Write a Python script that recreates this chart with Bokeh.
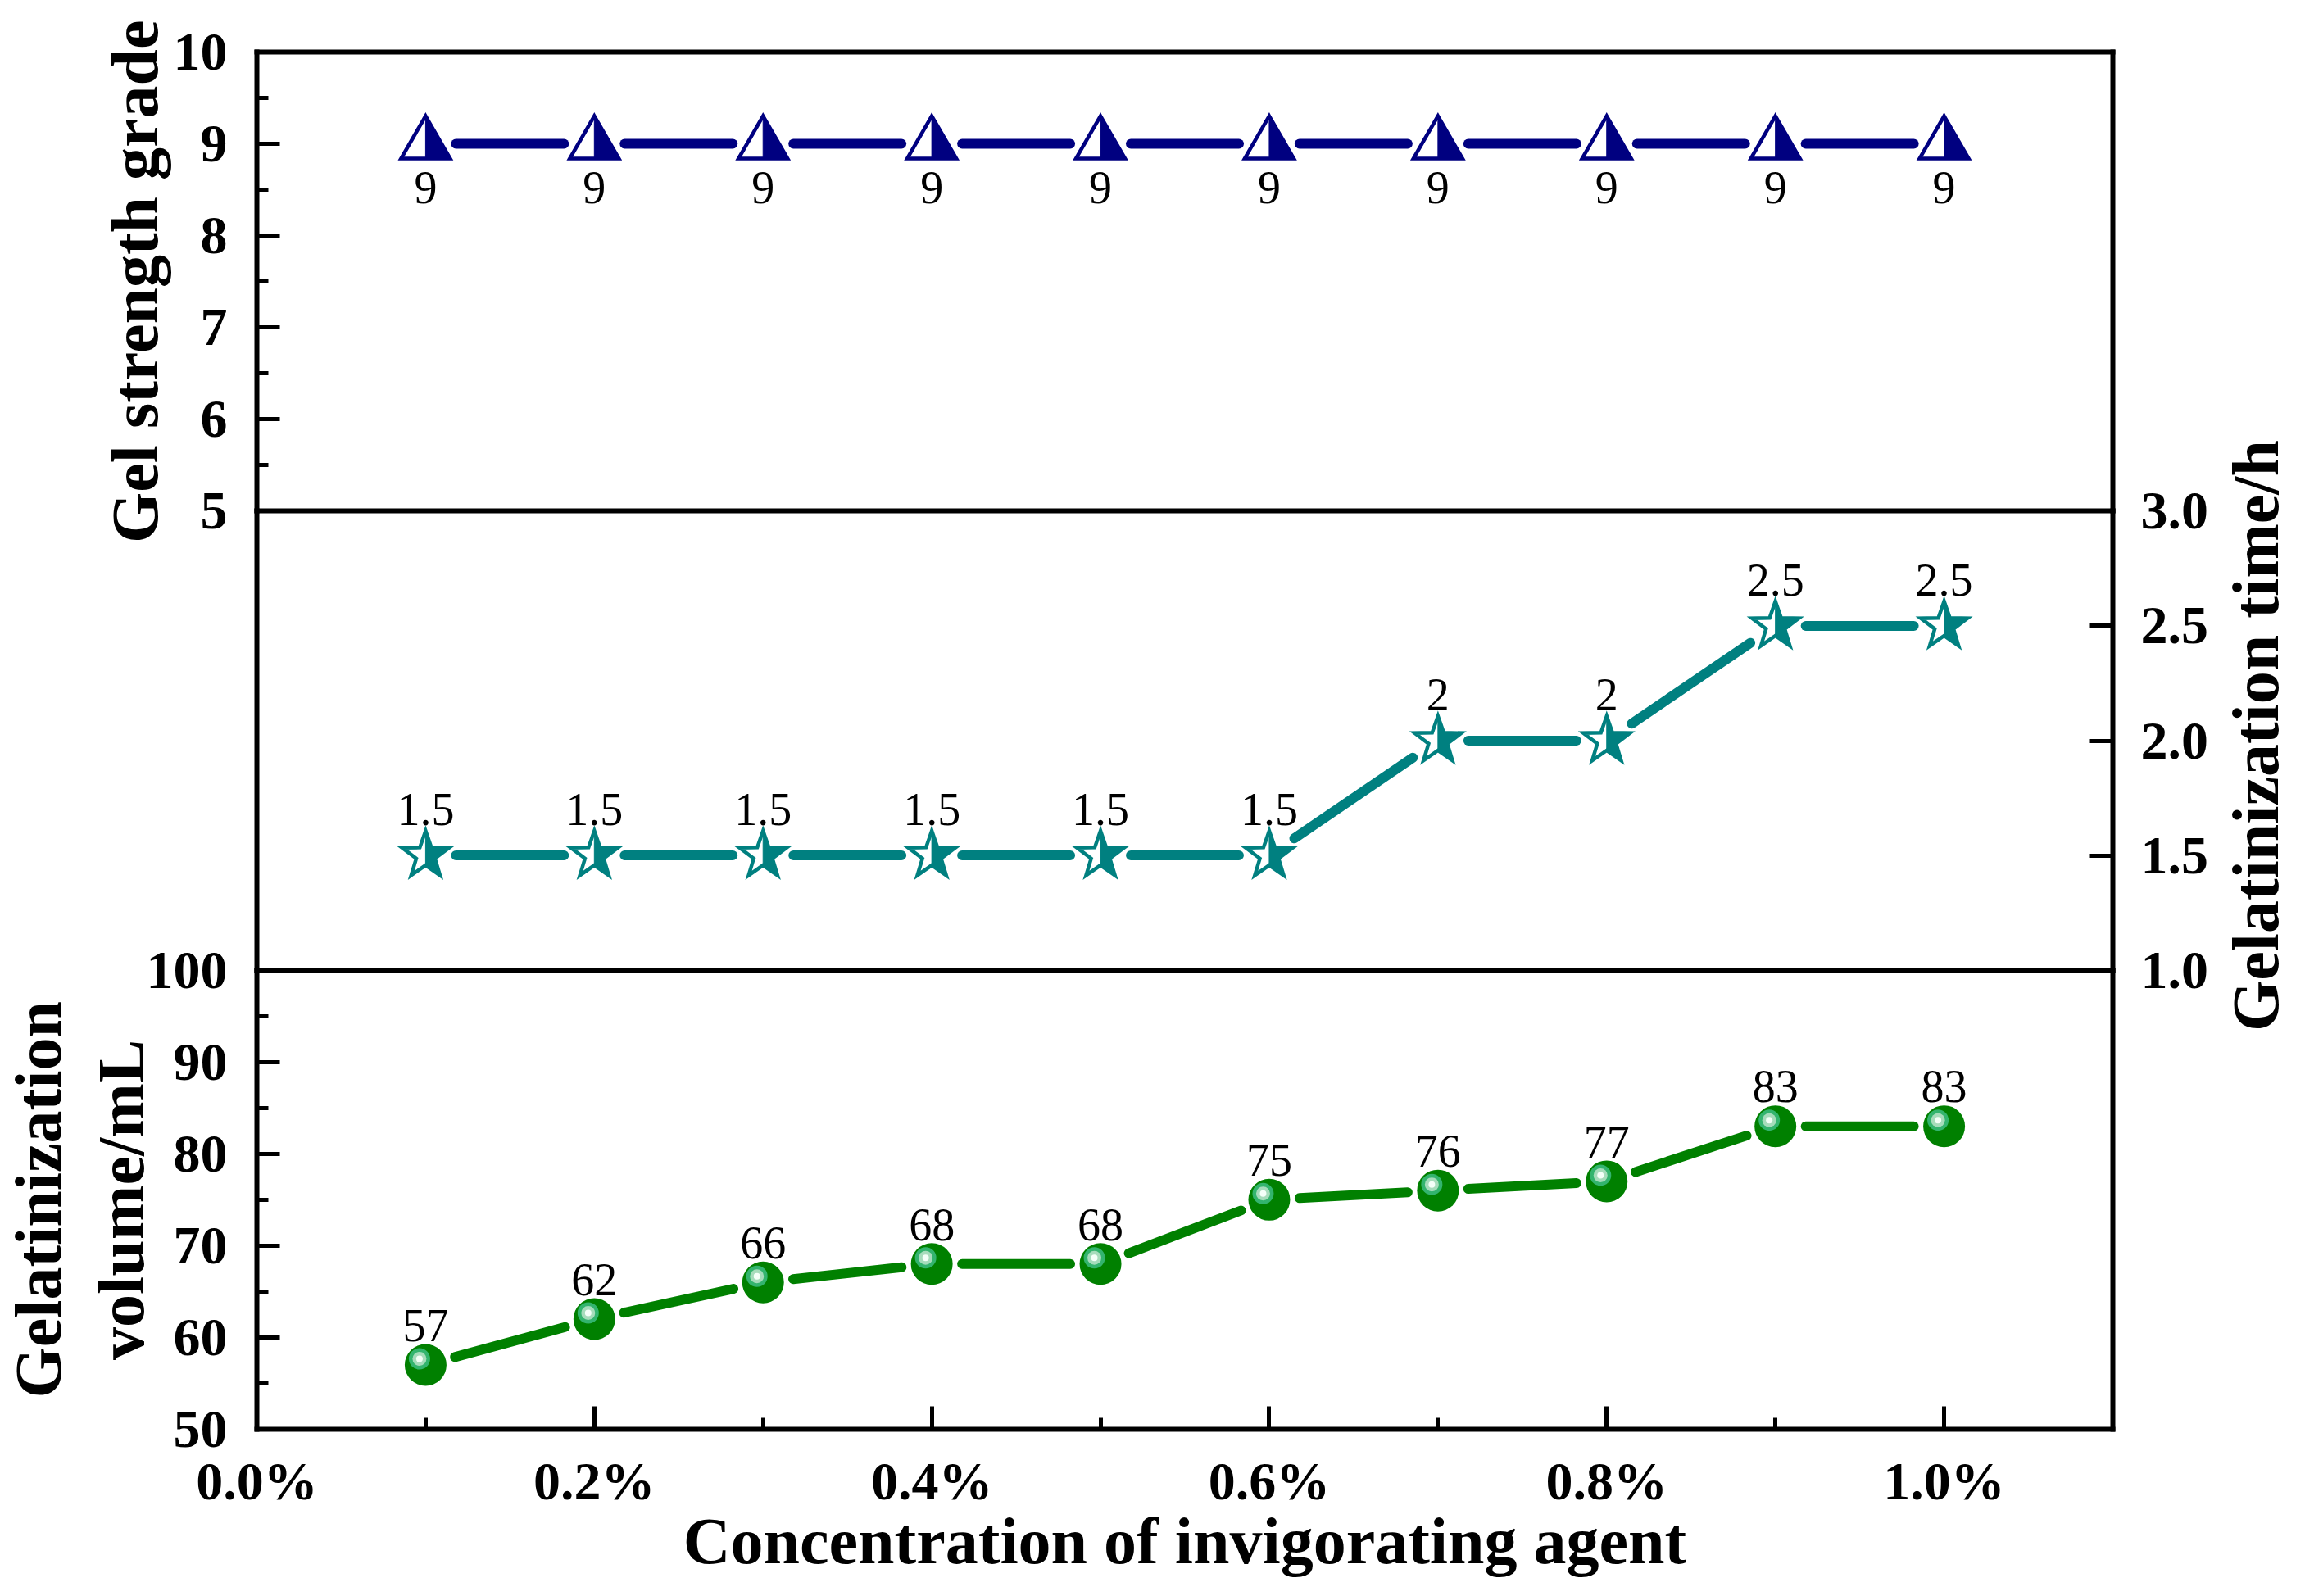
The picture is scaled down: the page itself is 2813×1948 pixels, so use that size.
import math
from bokeh.plotting import figure
from bokeh.models import Range1d, LinearAxis, FixedTicker, Label, PrintfTickFormatter
from bokeh.embed import file_html
from bokeh.resources import INLINE
from bokeh.core.properties import value

# ---------------- data ----------------
concentration = [0.1, 0.2, 0.3, 0.4, 0.5, 0.6, 0.7, 0.8, 0.9, 1.0]
gel_strength_grade = [9, 9, 9, 9, 9, 9, 9, 9, 9, 9]
gelatinization_time = [1.5, 1.5, 1.5, 1.5, 1.5, 1.5, 2.0, 2.0, 2.5, 2.5]
gelatinization_volume = [57, 62, 66, 68, 68, 75, 76, 77, 83, 83]

x_limits = (0.0, 1.1)
x_major_ticks = [0.0, 0.2, 0.4, 0.6, 0.8, 1.0]
x_minor_ticks = [0.1, 0.3, 0.5, 0.7, 0.9]
grade_limits = (5, 10)
grade_ticks = [5, 6, 7, 8, 9, 10]
grade_minor_ticks = [5.5, 6.5, 7.5, 8.5, 9.5]
time_limits = (1.0, 3.0)
time_ticks = [1.0, 1.5, 2.0, 2.5, 3.0]
volume_limits = (50, 100)
volume_ticks = [50, 60, 70, 80, 90, 100]
volume_minor_ticks = [55, 65, 75, 85, 95]

x_title = "Concentration of invigorating agent"
grade_title = "Gel strength grade"
time_title = "Gelatinization time/h"
volume_title_lines = ["Gelatinization", "volume/mL"]

# ---------------- layout constants ----------------
CW, CH = 2810, 1945            # whole canvas is the frame
BOX_L, BOX_R = 313, 2578       # plot box, px from canvas left
BOX_T = 63                     # plot box top, px from canvas top
PANEL_H = 1681 / 3.0
FONT = "Liberation Serif"
NAVY, TEAL, GREEN = "#000080", "#008080", "#008000"
TEXT_SHIFT = 0.38              # empirical baseline correction (em)

kx = (BOX_R - BOX_L) / (x_limits[1] - x_limits[0])
xs0 = x_limits[0] - BOX_L / kx
x_rng = Range1d(xs0, xs0 + CW / kx)


def panel_range(i, lo, hi):
    top = BOX_T + i * PANEL_H
    k = PANEL_H / (hi - lo)
    ye = hi + top / k
    return Range1d(ye - CH / k, ye)


grade_rng = panel_range(0, *grade_limits)
time_rng = panel_range(1, *time_limits)
vol_rng = panel_range(2, *volume_limits)

p = figure(frame_width=CW, frame_height=CH, x_range=x_rng, y_range=grade_rng,
           x_axis_location=None, y_axis_location=None, min_border=0,
           output_backend="svg", toolbar_location=None)
p.extra_y_ranges = {"time": time_rng, "volume": vol_rng}
p.grid.visible = False
p.outline_line_color = None
p.background_fill_color = "white"
p.border_fill_color = "white"


def make_axis(side, fixed, bounds, ticks=None, minor=None, fmt=None, standoff=36, **kw):
    ax = LinearAxis(fixed_location=fixed, bounds=bounds, **kw)
    ax.axis_line_color = "black"
    ax.axis_line_width = 6
    ax.axis_line_cap = "square"
    if ticks is None:
        ax.ticker = FixedTicker(ticks=[], minor_ticks=[])
        ax.major_label_text_font_size = "0px"
        ax.major_tick_line_color = None
        ax.minor_tick_line_color = None
    else:
        ax.ticker = FixedTicker(ticks=ticks, minor_ticks=minor or [])
        if fmt is not None:
            ax.formatter = fmt
        ax.major_tick_in = 28
        ax.major_tick_out = 0
        ax.minor_tick_in = 14
        ax.minor_tick_out = 0
        ax.major_tick_line_width = 5
        ax.minor_tick_line_width = 5
        ax.major_tick_line_color = "black"
        ax.minor_tick_line_color = "black"
        ax.major_label_text_font = FONT
        ax.major_label_text_font_style = "bold"
        ax.major_label_text_font_size = "66px"
        ax.major_label_text_color = "black"
        ax.major_label_standoff = standoff
    p.add_layout(ax, side)
    return ax


xl, xr = x_limits
# left side
make_axis("left", xl, grade_limits, grade_ticks, grade_minor_ticks, standoff=36)
make_axis("left", xl, time_limits, y_range_name="time")
make_axis("left", xl, volume_limits, volume_ticks, volume_minor_ticks, standoff=36, y_range_name="volume")
# right side
make_axis("right", xr, grade_limits)
make_axis("right", xr, time_limits, time_ticks, [], PrintfTickFormatter(format="%.1f"), standoff=34,
          y_range_name="time")
make_axis("right", xr, volume_limits, y_range_name="volume")
# horizontal lines: top, dividers, bottom axis
make_axis("above", grade_limits[1], x_limits)
make_axis("above", time_limits[1], x_limits, y_range_name="time")
make_axis("above", time_limits[0], x_limits, y_range_name="time")
make_axis("below", volume_limits[0], x_limits, x_major_ticks, x_minor_ticks,
          PrintfTickFormatter(format="%.1f%%"), standoff=26, y_range_name="volume")


# ---------------- helpers (pixel <-> data) ----------------
def to_px(xs, ys, yr):
    px = [(x - x_rng.start) / (x_rng.end - x_rng.start) * CW for x in xs]
    py = [(y - yr.start) / (yr.end - yr.start) * CH for y in ys]
    return px, py


def to_data_x(px):
    return x_rng.start + px / CW * (x_rng.end - x_rng.start)


def to_data_y(py, yr):
    return yr.start + py / CH * (yr.end - yr.start)


def gapped_segments(xs, ys, yr, gap, lw):
    px, py = to_px(xs, ys, yr)
    g = gap + lw / 2.0
    x0, y0, x1, y1 = [], [], [], []
    for i in range(len(px) - 1):
        dx, dy = px[i + 1] - px[i], py[i + 1] - py[i]
        d = math.hypot(dx, dy)
        ux, uy = dx / d, dy / d
        x0.append(to_data_x(px[i] + ux * g))
        y0.append(to_data_y(py[i] + uy * g, yr))
        x1.append(to_data_x(px[i + 1] - ux * g))
        y1.append(to_data_y(py[i + 1] - uy * g, yr))
    return x0, y0, x1, y1


def shape_patches(xs, ys, yr, offsets):
    px, py = to_px(xs, ys, yr)
    out_x, out_y = [], []
    for cx, cy in zip(px, py):
        out_x.append([to_data_x(cx + ox) for ox, oy in offsets])
        out_y.append([to_data_y(cy + oy, yr) for ox, oy in offsets])
    return out_x, out_y


def offset_points(xs, ys, yr, ox, oy):
    px, py = to_px(xs, ys, yr)
    return [to_data_x(v + ox) for v in px], [to_data_y(v + oy, yr) for v in py]


LW = 12
GAP = 31
LABEL_PX = 56
LABEL_SIZE = f"{LABEL_PX}px"
LSHIFT = TEXT_SHIFT * LABEL_PX

# ---------------- series 1: gel strength grade (navy half-filled triangles) ----------------
s = gapped_segments(concentration, gel_strength_grade, grade_rng, GAP, LW)
p.segment(x0=s[0], y0=s[1], x1=s[2], y1=s[3], line_color=NAVY, line_width=LW, line_cap="round")
tri_full = [(0, 34), (30, -18), (-30, -18)]
tri_right = [(0, 34), (30, -18), (0, -18)]
tx, ty = shape_patches(concentration, gel_strength_grade, grade_rng, tri_full)
p.patches(tx, ty, fill_color="white", line_color=None)
tx, ty = shape_patches(concentration, gel_strength_grade, grade_rng, tri_right)
p.patches(tx, ty, fill_color=NAVY, line_color=NAVY, line_width=1)
tx, ty = shape_patches(concentration, gel_strength_grade, grade_rng, tri_full)
p.patches(tx, ty, fill_color=None, line_color=NAVY, line_width=4.5, line_join="miter")
p.text(x=concentration, y=gel_strength_grade, text=[f"{v:g}" for v in gel_strength_grade],
       text_font=value(FONT), text_font_size=LABEL_SIZE, text_color="black",
       text_align="center", text_baseline="alphabetic", y_offset=75 - LSHIFT)

# ---------------- series 2: gelatinization time (teal half-filled stars) ----------------
s = gapped_segments(concentration, gelatinization_time, time_rng, GAP, LW)
p.segment(x0=s[0], y0=s[1], x1=s[2], y1=s[3], y_range_name="time",
          line_color=TEAL, line_width=LW, line_cap="round")
R_OUT, R_IN = 30, 12
star_full = [((R_OUT if k % 2 == 0 else R_IN) * math.cos(math.radians(90 - 36 * k)),
              (R_OUT if k % 2 == 0 else R_IN) * math.sin(math.radians(90 - 36 * k))) for k in range(10)]
star_right = [(0.0 if k in (0, 5) else ox, oy) for k, (ox, oy) in enumerate(star_full[:6])]
sx_, sy_ = shape_patches(concentration, gelatinization_time, time_rng, star_full)
p.patches(sx_, sy_, y_range_name="time", fill_color="white", line_color=None)
sx_, sy_ = shape_patches(concentration, gelatinization_time, time_rng, star_right)
p.patches(sx_, sy_, y_range_name="time", fill_color=TEAL, line_color=TEAL, line_width=1)
sx_, sy_ = shape_patches(concentration, gelatinization_time, time_rng, star_full)
p.patches(sx_, sy_, y_range_name="time", fill_color=None, line_color=TEAL, line_width=4.5,
          line_join="miter")
p.text(x=concentration, y=gelatinization_time, y_range_name="time",
       text=[f"{v:g}" for v in gelatinization_time],
       text_font=value(FONT), text_font_size=LABEL_SIZE, text_color="black",
       text_align="center", text_baseline="alphabetic", y_offset=-35 - LSHIFT)

# ---------------- series 3: gelatinization volume (green spheres) ----------------
s = gapped_segments(concentration, gelatinization_volume, vol_rng, GAP, LW)
p.segment(x0=s[0], y0=s[1], x1=s[2], y1=s[3], y_range_name="volume",
          line_color=GREEN, line_width=LW, line_cap="round")
p.scatter(concentration, gelatinization_volume, y_range_name="volume", marker="circle",
          size=51, fill_color=GREEN, line_color=None)
hx, hy = offset_points(concentration, gelatinization_volume, vol_rng, -7.5, 7.5)
p.scatter(hx, hy, y_range_name="volume", marker="circle", size=26, fill_color="#33b46e", line_color=None)
p.scatter(hx, hy, y_range_name="volume", marker="circle", size=17, fill_color="#a6dcbb", line_color=None)
p.scatter(hx, hy, y_range_name="volume", marker="circle", size=8, fill_color="#f4fff8", line_color=None)
p.text(x=concentration, y=gelatinization_volume, y_range_name="volume",
       text=[f"{v:g}" for v in gelatinization_volume],
       text_font=value(FONT), text_font_size=LABEL_SIZE, text_color="black",
       text_align="center", text_baseline="alphabetic", y_offset=-27 - LSHIFT)

# ---------------- titles (canvas px, origin bottom-left) ----------------
TITLE_PX = 80
TSHIFT = TEXT_SHIFT * TITLE_PX


def title_label(text, x, y, angle):
    p.add_layout(Label(x=x, y=y, x_units="screen", y_units="screen", text=text, angle=angle,
                       text_align="center", text_baseline="alphabetic",
                       text_font=FONT, text_font_style="bold", text_font_size=f"{TITLE_PX}px",
                       text_color="black"))


grade_mid = CH - (BOX_T + 0.5 * PANEL_H)
time_mid = CH - (BOX_T + 1.5 * PANEL_H)
vol_mid = CH - (BOX_T + 2.5 * PANEL_H)
title_label(grade_title, 195 - TSHIFT, grade_mid, math.pi / 2)
title_label(volume_title_lines[0], 77 - TSHIFT, vol_mid, math.pi / 2)
title_label(volume_title_lines[1], 178 - TSHIFT, vol_mid, math.pi / 2)
title_label(time_title, 2783 - TSHIFT, time_mid + 6, math.pi / 2)
title_label(x_title, (BOX_L + BOX_R) / 2, CH - 1911 + TSHIFT, 0)

open("out.html", "w").write(file_html(p, INLINE))
